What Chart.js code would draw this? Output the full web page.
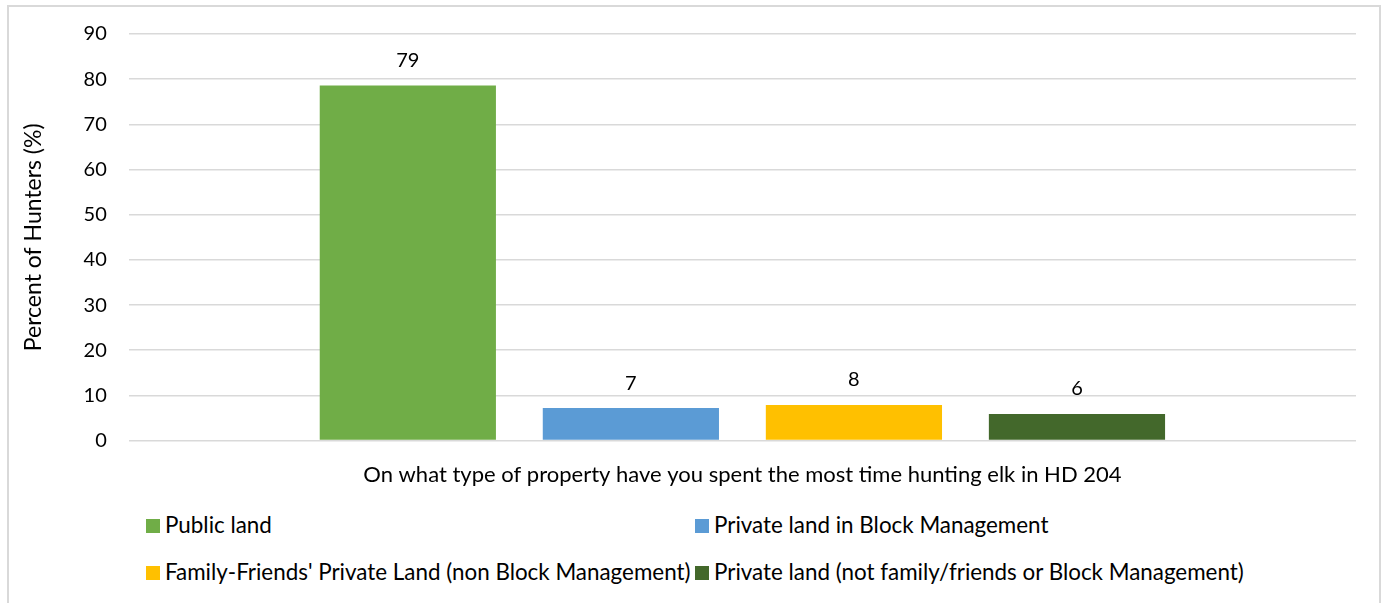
<!DOCTYPE html>
<html>
<head>
<meta charset="utf-8">
<script src="https://cdn.jsdelivr.net/npm/chart.js@4"></script>
<style>
  html, body { margin: 0; padding: 0; background: #fff; }
  body { width: 1385px; height: 603px; overflow: hidden; position: relative; font-family: Lato, "Open Sans", sans-serif; }
  #frame { position: absolute; left: 7px; top: 5px; width: 1374px; height: 620px; border: 2px solid #d9d9d9; box-sizing: border-box; }
  #wrap { position: absolute; left: 0; top: 0; width: 1374px; height: 494px; }
  #legend { position: absolute; left: 0; top: 0; }
  .item { position: absolute; white-space: nowrap; font-size: 22.4px; color: #000; line-height: 22px; }
  .item span.box { display: inline-block; width: 14px; height: 14px; margin-right: 5px; vertical-align: 0px; }
</style>
</head>
<body>
<div id="frame">
  <div id="wrap"><canvas id="chart"></canvas></div>
</div>
<div id="legend"></div>
<script>
// données du graphique
const categories = ['On what type of property have you spent the most time hunting elk in HD 204'];
const seriesNames = [
  'Public land',
  'Private land in Block Management',
  "Family-Friends' Private Land (non Block Management)",
  'Private land (not family/friends or Block Management)'
];
const seriesValues = [78.6, 7.2, 7.9, 5.9];
const seriesColors = ['#70ad47', '#5b9bd5', '#ffc000', '#43682b'];
const yTicks = [0, 10, 20, 30, 40, 50, 60, 70, 80, 90];

const FONT = 'Lato, "Open Sans", sans-serif';

// étiquettes de valeur au-dessus des barres
const valueLabels = {
  id: 'valueLabels',
  afterDatasetsDraw(chart) {
    const ctx = chart.ctx;
    ctx.save();
    ctx.font = '20px ' + FONT;
    ctx.fillStyle = '#000';
    ctx.textAlign = 'center';
    ctx.textBaseline = 'bottom';
    chart.data.datasets.forEach((ds, i) => {
      const bar = chart.getDatasetMeta(i).data[0];
      ctx.fillText(Math.round(ds.data[0]), bar.x, bar.y - 15);
    });
    ctx.restore();
  }
};

const ctx = document.getElementById('chart').getContext('2d');
new Chart(ctx, {
  type: 'bar',
  data: {
    labels: categories,
    datasets: seriesNames.map((name, i) => ({
      label: name,
      data: [seriesValues[i]],
      backgroundColor: seriesColors[i],
      categoryPercentage: 0.727,
      barPercentage: 0.79
    }))
  },
  options: {
    responsive: true,
    maintainAspectRatio: false,
    animation: false,
    layout: { padding: { top: 6, right: 27, left: 7, bottom: 0 } },
    plugins: {
      legend: { display: false },
      tooltip: { enabled: false }
    },
    scales: {
      x: {
        grid: { display: false },
        border: { display: false },
        ticks: { color: '#000', font: { family: FONT, size: 22 }, padding: 13 }
      },
      y: {
        min: 0,
        max: 90,
        afterBuildTicks: (axis) => { axis.ticks = yTicks.map(v => ({ value: v })); },
        // la marge des graduations ne doit pas pousser le haut du graphique
        afterFit: (axis) => { axis.paddingTop = 27; },
        grid: { color: '#d9d9d9', lineWidth: 1.5, drawTicks: false },
        border: { display: false },
        ticks: { color: '#000', font: { family: FONT, size: 20 }, padding: 22 },
        title: {
          display: true,
          text: 'Percent of Hunters (%)',
          color: '#000',
          font: { family: FONT, size: 23 },
          padding: { bottom: 14 }
        }
      }
    }
  },
  plugins: [valueLabels]
});

// légende en deux colonnes
const legendPos = [[146, 514], [695, 514], [146, 561], [695, 561]];
const legend = document.getElementById('legend');
seriesNames.forEach((name, i) => {
  const el = document.createElement('div');
  el.className = 'item';
  el.style.left = legendPos[i][0] + 'px';
  el.style.top = legendPos[i][1] + 'px';
  el.innerHTML = '<span class="box" style="background:' + seriesColors[i] + '"></span>';
  el.appendChild(document.createTextNode(name));
  legend.appendChild(el);
});
</script>
</body>
</html>
